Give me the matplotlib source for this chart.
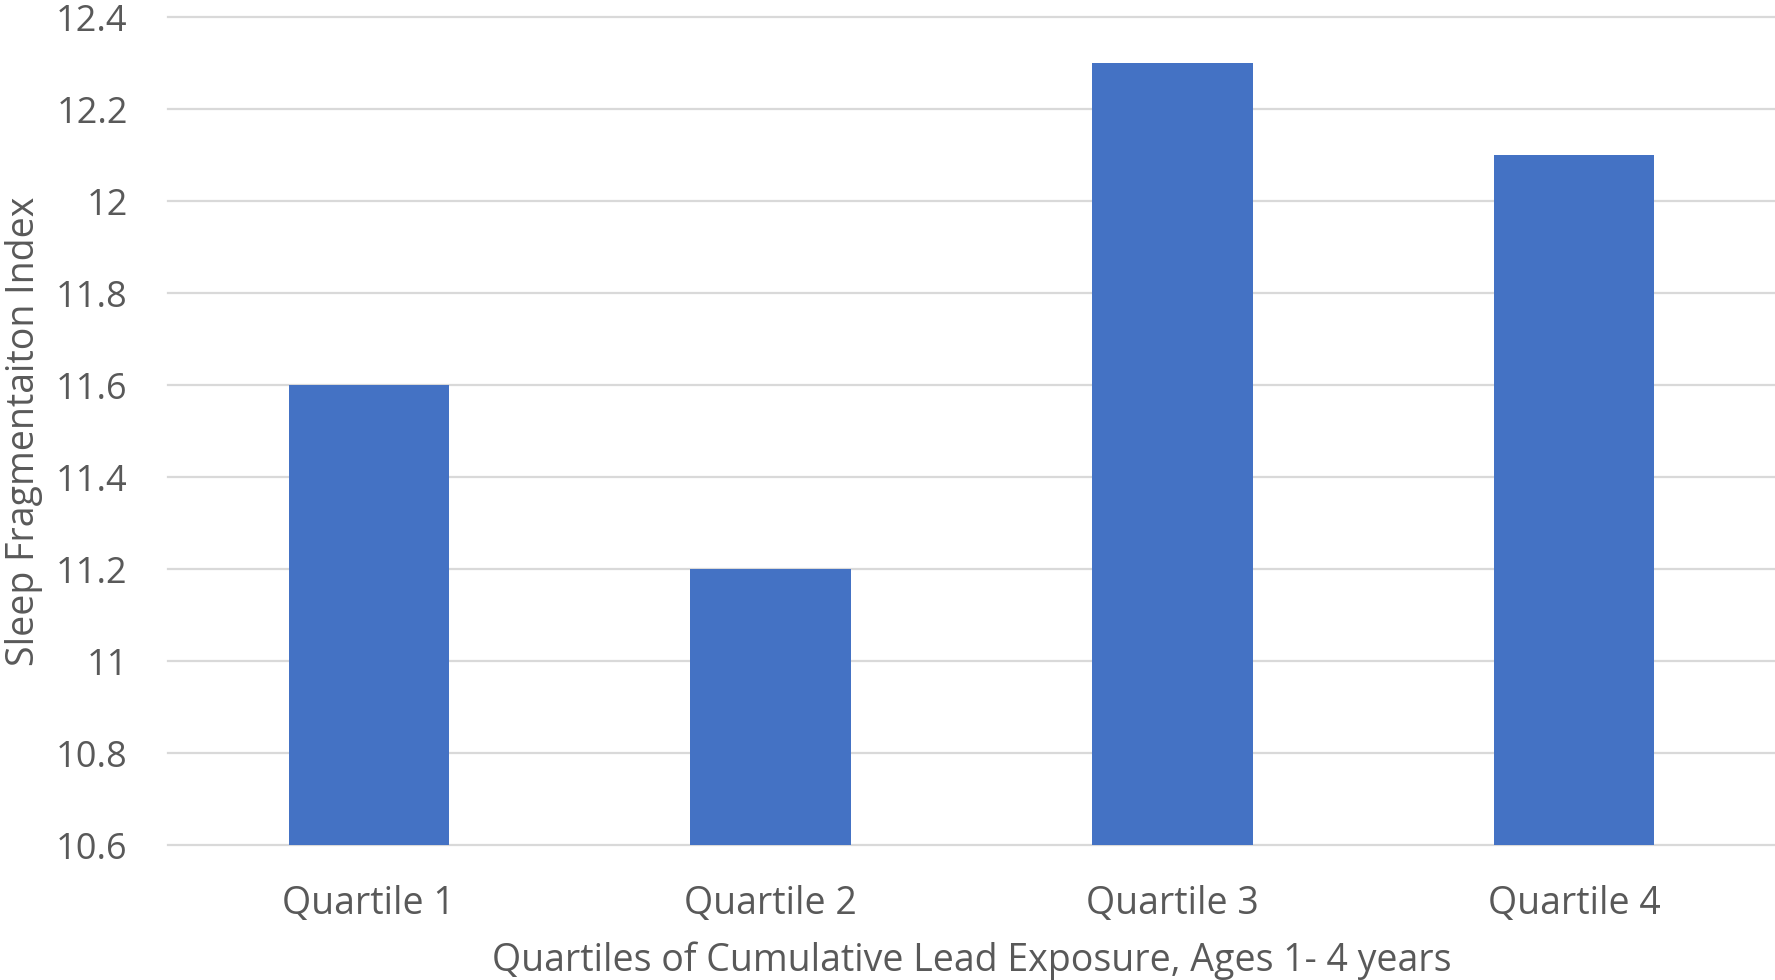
import matplotlib
matplotlib.use("Agg")
import matplotlib.pyplot as plt
from matplotlib.ticker import FixedLocator

categories = ["Quartile 1", "Quartile 2", "Quartile 3", "Quartile 4"]
values = [11.6, 11.2, 12.3, 12.1]
y_ticks = [10.6, 10.8, 11.0, 11.2, 11.4, 11.6, 11.8, 12.0, 12.2, 12.4]
y_tick_labels = ["10.6", "10.8", "11", "11.2", "11.4", "11.6", "11.8", "12", "12.2", "12.4"]

plt.rcParams["font.family"] = ["Open Sans", "DejaVu Sans"]
text_color = "#595959"
grid_color = "#D9D9D9"
bar_color = "#4472C4"

W, H = 1775, 980
fig = plt.figure(figsize=(W / 100, H / 100), dpi=100)
ax = fig.add_axes([168 / W, 1 - 845 / H, 1 - 168 / W, (845 - 17) / H])

x = list(range(len(categories)))
ax.bar(x, [v - y_ticks[0] for v in values], bottom=y_ticks[0], width=0.4,
       color=bar_color, zorder=3)

ax.set_xlim(-0.5, len(categories) - 0.5)
ax.set_ylim(y_ticks[0], y_ticks[-1])
ax.yaxis.set_major_locator(FixedLocator(y_ticks))
ax.set_yticklabels(y_tick_labels)
ax.set_xticks(x)
ax.set_xticklabels(categories)

for y in y_ticks:
    ax.axhline(y, color=grid_color, linewidth=1.6, zorder=1, clip_on=False)

for s in ax.spines.values():
    s.set_visible(False)
ax.tick_params(axis="y", length=0, labelsize=26, labelcolor=text_color, pad=29)
ax.tick_params(axis="x", length=0, labelsize=27, labelcolor=text_color, pad=29)

ax.set_ylabel("Sleep Fragmentaiton Index", fontsize=27, color=text_color)
ax.set_xlabel("Quartiles of Cumulative Lead Exposure, Ages 1- 4 years",
              fontsize=27, color=text_color)
ax.yaxis.set_label_coords(-0.0775, 0.5)
ax.xaxis.set_label_coords(0.5, -0.1165)

fig.savefig("out.png", dpi=100, facecolor="white")
